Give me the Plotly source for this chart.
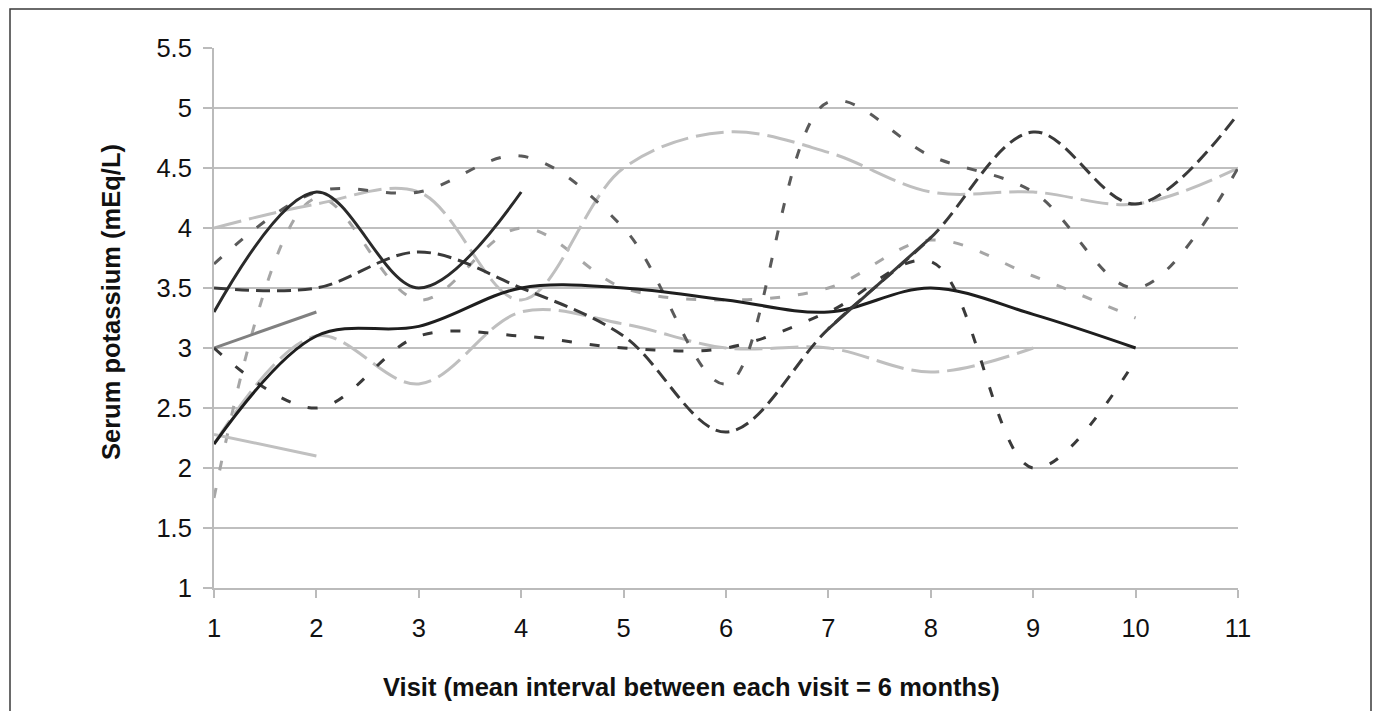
import plotly.graph_objects as go

VISITS = [1, 2, 3, 4, 5, 6, 7, 8, 9, 10, 11]
X_TICKS = [1, 2, 3, 4, 5, 6, 7, 8, 9, 10, 11]
Y_TICKS = [1, 1.5, 2, 2.5, 3, 3.5, 4, 4.5, 5, 5.5]
Y_TICK_LABELS = ["1", "1.5", "2", "2.5", "3", "3.5", "4", "4.5", "5", "5.5"]

# patient series (serum potassium, mEq/L) per visit
p1 = [3.3, 4.3, 3.5, 4.3]
p2 = [2.2, 3.1, 3.18, 3.5, 3.5, 3.4, 3.3, 3.5, 3.28, 3.0]
p3 = [3.0, 3.3]
p4 = [2.28, 2.1]
p5 = [3.7, 4.3, 4.3, 4.6, 4.0, 2.7, 5.05, 4.6, 4.3, 3.5, 4.5]
p6 = [3.0, 2.5, 3.1, 3.1, 3.0, 3.0, 3.3, 3.72, 2.0, 2.9]
p7 = [3.5, 3.5, 3.8, 3.5, 3.1, 2.3, 3.16, 3.92, 4.8, 4.2, 4.95]
p8 = [4.0, 4.2, 4.3, 3.4, 4.5, 4.8, 4.63, 4.3, 4.3, 4.2, 4.5]
p9 = [2.2, 3.1, 2.7, 3.3, 3.2, 3.0, 3.0, 2.8, 3.0]
p10 = [1.75, 4.25, 3.4, 4.0, 3.5, 3.4, 3.5, 3.9, 3.6, 3.25]

X_TITLE = "Visit (mean interval between each visit = 6 months)"
Y_TITLE = "Serum potassium (mEq/L)"

styles = [
    (p10, "#A6A6A6", "10px,18px"),
    (p9, "#BFBFBF", "28px,8px"),
    (p8, "#BFBFBF", "28px,8px"),
    (p4, "#C0C0C0", "solid"),
    (p3, "#808080", "solid"),
    (p5, "#5A5A5A", "10px,18px"),
    (p6, "#3A3A3A", "10px,18px"),
    (p7, "#3A3A3A", "14px,7px"),
    (p2, "#1E1E1E", "solid"),
    (p1, "#2A2A2A", "solid"),
]

fig = go.Figure()
for vals, col, dash in styles:
    fig.add_trace(go.Scatter(
        x=VISITS[:len(vals)], y=vals, mode="lines",
        line=dict(color=col, width=3, dash=dash, shape="spline", smoothing=1.0),
        showlegend=False, hoverinfo="skip"))

# solid stretch of the dark long-dash series between visits 7 and 8
fig.add_trace(go.Scatter(
    x=VISITS[6:8], y=p7[6:8], mode="lines",
    line=dict(color="#3A3A3A", width=3),
    showlegend=False, hoverinfo="skip"))

L, R, T, B = 214, 138, 48, 123
W, H = 1376, 711
pw, ph = W - L - R, H - T - B

def px(xp):
    return (xp - L) / pw

def py(yp):
    return (H - B - yp) / ph

FS = 25.5

fig.update_layout(
    width=W, height=H,
    margin=dict(l=L, r=R, t=T, b=B),
    paper_bgcolor="white", plot_bgcolor="white",
    font=dict(family="Liberation Sans, Arial, sans-serif", size=FS, color="#111111"),
    xaxis=dict(range=[1, 11], tickvals=X_TICKS, ticktext=[str(v) for v in X_TICKS],
               showgrid=False, zeroline=False, showline=True, linecolor="#BBBBBB",
               linewidth=2, ticks="outside", ticklen=8, tickwidth=2, tickcolor="#BBBBBB",
               tickfont=dict(size=FS), ticklabelstandoff=8),
    yaxis=dict(range=[1, 5.5], tickvals=Y_TICKS, ticktext=Y_TICK_LABELS,
               showgrid=True, gridcolor="#BFBFBF", gridwidth=2, zeroline=False,
               showline=True, linecolor="#BBBBBB", linewidth=2,
               ticks="outside", ticklen=9, tickwidth=2, tickcolor="#BBBBBB",
               tickfont=dict(size=FS), ticklabelstandoff=6),
    annotations=[
        dict(text=f"<b>{X_TITLE}</b>", xref="paper", yref="paper",
             x=px(691), y=py(687), showarrow=False, font=dict(size=FS, color="#111111"),
             xanchor="center", yanchor="middle"),
        dict(text=f"<b>{Y_TITLE}</b>", xref="paper", yref="paper",
             x=px(111), y=py(302), showarrow=False, font=dict(size=FS, color="#111111"),
             textangle=-90, xanchor="center", yanchor="middle"),
    ],
    shapes=[dict(type="rect", xref="paper", yref="paper",
                 x0=px(10), x1=px(1371), y0=py(718), y1=py(9),
                 line=dict(color="#3A3A3A", width=1.5), layer="below")],
)

fig.write_html("out.html", config={"displayModeBar": False},
               post_script="document.body.style.margin='0';")
